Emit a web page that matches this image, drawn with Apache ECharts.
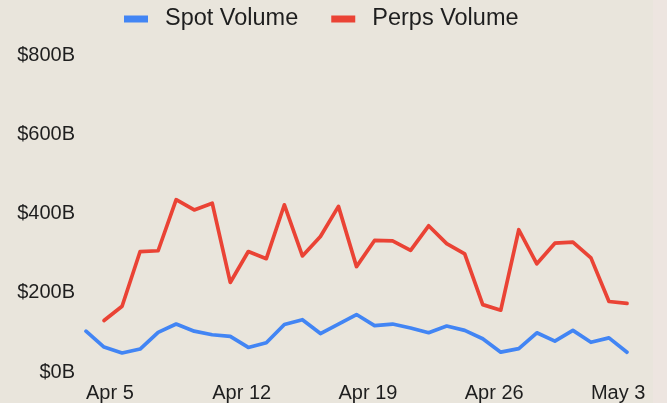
<!DOCTYPE html>
<html>
<head>
<meta charset="utf-8">
<script src="https://cdn.jsdelivr.net/npm/echarts@6/dist/echarts.min.js"></script>
<style>
html,body{margin:0;padding:0;background:#e9e5dc;}
#c{width:667px;height:403px;}
</style>
</head>
<body>
<div id="c"></div>
<script>
const categories = ["Apr 5","Apr 6","Apr 7","Apr 8","Apr 9","Apr 10","Apr 11","Apr 12","Apr 13","Apr 14","Apr 15","Apr 16","Apr 17","Apr 18","Apr 19","Apr 20","Apr 21","Apr 22","Apr 23","Apr 24","Apr 25","Apr 26","Apr 27","Apr 28","Apr 29","Apr 30","May 1","May 2","May 3","May 4","May 5"];
const spotVolume = [103,63,48,58,100,121,103,94,90,62,74,120,132,97,121,145,117,121,111,99,116,105,84,50,59,99,78,105,75,86,50];
const perpsVolume = [null,130,166,304,306,435,409,426,226,304,286,422,293,342,418,266,332,331,307,369,324,298,170,156,359,273,325,328,288,178,173];
const xTickLabels = ["Apr 5","Apr 12","Apr 19","Apr 26","May 3"];
const yTicks = [0,200,400,600,800];

const chart = echarts.init(document.getElementById('c'), null, {renderer:'canvas'});
const font = 'Liberation Sans, Arial, sans-serif';
chart.setOption({
  backgroundColor: '#e9e5dc',
  animation: false,
  graphic: [{type:'rect', left:653, top:0, shape:{width:14, height:403}, style:{fill:'#ede5e0'}, z:-1, silent:true}],
  legend: {
    left: 124, top: 7, padding: 0,
    itemWidth: 24, itemHeight: 7, itemGap: 33,
    icon: 'rect',
    textStyle: {fontFamily: font, fontSize: 23.5, color: '#1e1e1e', lineHeight: 24, padding:[0,0,0,12]},
    data: ['Spot Volume','Perps Volume']
  },
  grid: {left: 86, right: 40, top: 55, bottom: 30.5},
  xAxis: {
    type: 'category', data: categories, boundaryGap: false,
    axisLine: {show:false}, axisTick: {show:false}, splitLine:{show:false},
    axisLabel: {
      interval: (i, v) => xTickLabels.indexOf(v) >= 0,
      hideOverlap: false,
      align: 'left', margin: 11, fontFamily: font, fontSize: 20, color: '#1e1e1e'
    }
  },
  yAxis: {
    type: 'value', min: yTicks[0], max: yTicks[yTicks.length-1], interval: 200,
    axisLine:{show:false}, axisTick:{show:false}, splitLine:{show:false},
    axisLabel: {margin: 11, fontFamily: font, fontSize: 20, color: '#1e1e1e', formatter: v => '$' + v + 'B'}
  },
  series: [
    {name:'Spot Volume', type:'line', data: spotVolume, showSymbol:false, color:'#4285f4', lineStyle:{width:3.7, cap:'round', join:'round'}},
    {name:'Perps Volume', type:'line', data: perpsVolume, showSymbol:false, color:'#ea4335', lineStyle:{width:3.7, cap:'round', join:'round'}}
  ]
});
</script>
</body>
</html>
